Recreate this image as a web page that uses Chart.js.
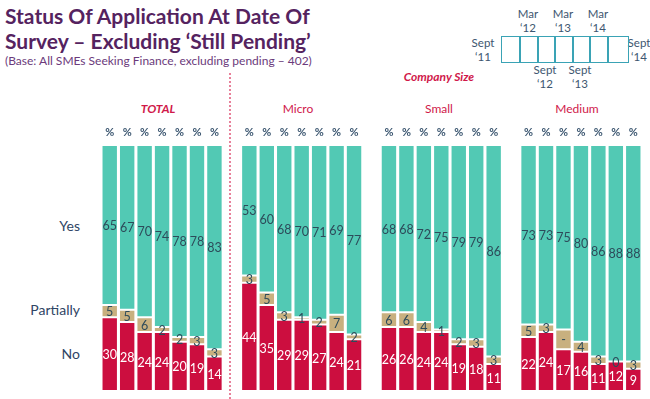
<!DOCTYPE html>
<html>
<head>
<meta charset="utf-8">
<script src="https://cdn.jsdelivr.net/npm/chart.js@4.4.0/dist/chart.umd.min.js"></script>
<style>
  body { margin: 0; background: #fff; font-family: Lato, "Open Sans", sans-serif; }
  #wrap { position: relative; width: 650px; height: 399px; overflow: hidden; }
  #chart { position: absolute; left: 0; top: 0; }
  .abs { position: absolute; white-space: nowrap; }
  .title { left: 5px; font-weight: bold; font-size: 21px; color: #55235f; line-height: 26px; }
  .sub { left: 5px; top: 53px; font-size: 12px; color: #6b3a7b; }
  .row { font-size: 14px; color: #2f4565; text-align: right; width: 80px; left: 0; }
  .grp { font-size: 12px; color: #d0184a; transform: translateX(-50%); }
  .key { font-size: 11.5px; color: #3d5670; text-align: center; line-height: 14px; transform: translateX(-50%); }
  .box { position: absolute; top: 36px; height: 27px; border: 1.5px solid #3aa3b5; box-sizing: border-box; }
  #dash { left: 229px; top: 73px; height: 326px; border-left: 2px dotted #e8809a; }
</style>
</head>
<body>
<div id="wrap">
  <div class="abs title" style="top:3px">Status Of Application At Date Of</div>
  <div class="abs title" style="top:28px">Survey – Excluding ‘Still Pending’</div>
  <div class="abs sub">(Base: All SMEs Seeking Finance, excluding pending – 402)</div>

  <div class="abs key" style="left:483px;top:36px">Sept<br>‘11</div>
  <div class="abs key" style="left:528px;top:7px">Mar<br>‘12</div>
  <div class="abs key" style="left:563px;top:7px">Mar<br>‘13</div>
  <div class="abs key" style="left:598px;top:7px">Mar<br>‘14</div>
  <div class="abs key" style="left:545px;top:63px">Sept<br>‘12</div>
  <div class="abs key" style="left:580px;top:63px">Sept<br>‘13</div>
  <div class="abs key" style="left:639px;top:36px">Sept<br>‘14</div>
  <div id="boxes"></div>

  <div class="abs grp" style="left:439px;top:69px;font-weight:bold;font-style:italic">Company Size</div>
  <div class="abs grp" style="left:158px;top:101px;font-weight:bold;font-style:italic">TOTAL</div>
  <div class="abs grp" style="left:298px;top:101px">Micro</div>
  <div class="abs grp" style="left:439px;top:101px">Small</div>
  <div class="abs grp" style="left:577px;top:101px">Medium</div>

  <div class="abs row" style="top:217px">Yes</div>
  <div class="abs row" style="top:301px">Partially</div>
  <div class="abs row" style="top:345px">No</div>

  <div class="abs" id="dash"></div>
  <canvas id="chart" width="650" height="399"></canvas>
</div>
<script>
// survey waves, Sept '11 to Sept '14
const waves = ["Sept '11", "Mar '12", "Sept '12", "Mar '13", "Sept '13", "Mar '14", "Sept '14"];
const groups = ['TOTAL', 'Micro', 'Small', 'Medium'];

// % per wave
const totalYes = [65, 67, 70, 74, 78, 78, 83];
const totalPartial = [5, 5, 6, 2, 2, 3, 3];
const totalNo = [30, 28, 24, 24, 20, 19, 14];

const microYes = [53, 60, 68, 70, 71, 69, 77];
const microPartial = [3, 5, 3, 1, 2, 7, 2];
const microNo = [44, 35, 29, 29, 27, 24, 21];

const smallYes = [68, 68, 72, 75, 79, 79, 86];
const smallPartial = [6, 6, 4, 1, 2, 3, 3];
const smallNo = [26, 26, 24, 24, 19, 18, 11];

const mediumYes = [73, 73, 75, 80, 86, 88, 88];
const mediumPartial = [5, 3, 8, 4, 3, 0, 3];
const mediumNo = [22, 24, 17, 16, 11, 12, 9];
// partial label printed as "-" on the 3rd medium bar
const mediumPartialText = ['5', '3', '-', '4', '3', '0', '3'];

// join the groups with an empty slot between them
const join = (a, b, c, d) => [...a, null, ...b, null, ...c, null, ...d];
const labels = [];
groups.forEach((g, i) => {
  waves.forEach(w => labels.push(g + ' ' + w));
  if (i < groups.length - 1) labels.push('');
});

const yesData = join(totalYes, microYes, smallYes, mediumYes);
const partialData = join(totalPartial, microPartial, smallPartial, mediumPartial);
const noData = join(totalNo, microNo, smallNo, mediumNo);
const partialText = join(totalPartial.map(String), microPartial.map(String), smallPartial.map(String), mediumPartialText);

// key boxes
const boxEdges = [501, 519, 537, 554, 572, 589, 607, 627];
const boxes = document.getElementById('boxes');
for (let i = 0; i < 7; i++) {
  const b = document.createElement('div');
  b.className = 'box';
  b.style.left = boxEdges[i] + 'px';
  b.style.width = (boxEdges[i + 1] - boxEdges[i] + 1.5) + 'px';
  boxes.appendChild(b);
}

const valueLabels = {
  id: 'valueLabels',
  afterDatasetsDraw(chart) {
    const ctx = chart.ctx;
    ctx.save();
    ctx.textAlign = 'center';
    ctx.textBaseline = 'middle';
    chart.data.datasets.forEach((ds, di) => {
      const meta = chart.getDatasetMeta(di);
      meta.data.forEach((bar, i) => {
        if (ds.data[i] === null) return;
        const txt = ds.texts ? ds.texts[i] : String(ds.data[i]);
        ctx.fillStyle = ds.textColor;
        ctx.font = '12.5px Lato';
        ctx.fillText(txt, bar.x, (bar.y + bar.base) / 2 + 1);
      });
    });
    // % row over the bars
    const x = chart.scales.x;
    ctx.fillStyle = '#3b5670';
    ctx.font = 'bold 11px Lato';
    labels.forEach((l, i) => {
      if (l) ctx.fillText('%', x.getPixelForValue(i), 132);
    });
    ctx.restore();
  }
};

new Chart(document.getElementById('chart'), {
  type: 'bar',
  data: {
    labels,
    datasets: [
      { label: 'No', data: noData, backgroundColor: '#cc0e3f', textColor: '#ffffff' },
      { label: 'Partially', data: partialData, texts: partialText, backgroundColor: '#c8b07f', textColor: '#2d4b5a' },
      { label: 'Yes', data: yesData, backgroundColor: '#52c9b4', textColor: '#2d4b5a' }
    ]
  },
  options: {
    responsive: false,
    animation: false,
    layout: { padding: { left: 101, right: 8, top: 145, bottom: 8 } },
    datasets: {
      bar: {
        categoryPercentage: 1,
        barPercentage: 0.94,
        borderWidth: 1,
        borderColor: 'rgba(255,255,255,0.55)',
        borderSkipped: false
      }
    },
    scales: {
      x: { stacked: true, display: false },
      y: { stacked: true, display: false, min: 0, max: 100 }
    },
    plugins: {
      legend: { display: false },
      tooltip: { enabled: false }
    }
  },
  plugins: [valueLabels]
});
</script>
</body>
</html>
